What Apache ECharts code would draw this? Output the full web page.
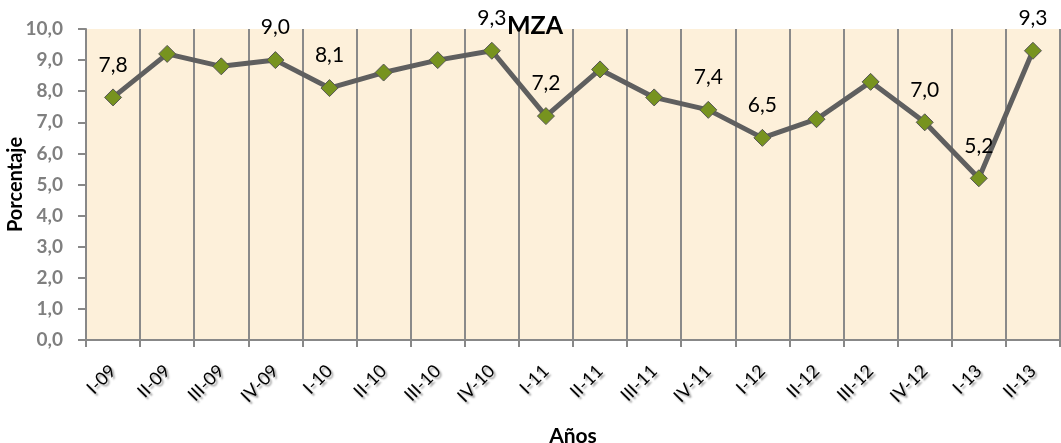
<!DOCTYPE html>
<html><head><meta charset="utf-8">
<script src="https://cdn.jsdelivr.net/npm/echarts@6/dist/echarts.min.js"></script>
<style>html,body{margin:0;padding:0;background:#fff}#c{width:1061px;height:443px}</style>
</head><body><div id="c"></div>
<script>
const categories = ['I-09','II-09','III-09','IV-09','I-10','II-10','III-10','IV-10','I-11','II-11','III-11','IV-11','I-12','II-12','III-12','IV-12','I-13','II-13'];
const values = [7.8, 9.2, 8.8, 9.0, 8.1, 8.6, 9.0, 9.3, 7.2, 8.7, 7.8, 7.4, 6.5, 7.1, 8.3, 7.0, 5.2, 9.3];
const showLabel = [true,false,false,true,true,false,false,true,true,false,false,true,true,false,false,true,true,true];
const yTicks = {min: 0, max: 10, interval: 1};

const fmt = v => v.toFixed(1).replace('.', ',');
const FONT = 'Lato';
const chart = echarts.init(document.getElementById('c'));
chart.setOption({
  animation: false,
  title: {text: 'MZA', left: 530, top: 8, textAlign: 'center',
    textStyle: {fontSize: 25, fontWeight: 'bold', color: '#000', fontFamily: FONT}},
  grid: {left: 86, right: 1, top: 29, bottom: 103, show: true, backgroundColor: '#FDF0DA', borderWidth: 0,
    outerBoundsMode: 'none', containLabel: false},
  xAxis: {
    type: 'category', data: categories, boundaryGap: true,
    name: 'Años', nameLocation: 'middle', nameGap: 86,
    nameTextStyle: {fontSize: 21, fontWeight: 'bold', color: '#000', fontFamily: FONT},
    axisLine: {lineStyle: {color: '#888', width: 2}},
    axisTick: {show: true, length: 7, lineStyle: {color: '#888', width: 2}},
    splitLine: {show: true, lineStyle: {color: '#8a8a8a', width: 2}},
    axisLabel: {rotate: 45, margin: 28, fontSize: 18, color: '#000', fontFamily: FONT,
      textShadowColor: 'rgba(0,0,0,0.4)', textShadowBlur: 2, textShadowOffsetX: 2, textShadowOffsetY: 2}
  },
  yAxis: {
    type: 'value', min: yTicks.min, max: yTicks.max, interval: yTicks.interval,
    name: 'Porcentaje', nameLocation: 'middle', nameGap: 60, nameRotate: 90, nameMoveOverlap: false,
    nameTextStyle: {fontSize: 20, fontWeight: 'bold', color: '#000', fontFamily: FONT},
    axisLine: {show: true, lineStyle: {color: '#888', width: 2}},
    axisTick: {show: true, inside: false, length: 8, lineStyle: {color: '#888', width: 2}},
    splitLine: {show: false},
    axisLabel: {formatter: function (v) { return fmt(v); }, fontSize: 19, fontWeight: 'bold', color: '#7F7F7F', margin: 23, fontFamily: FONT}
  },
  series: [{
    type: 'line',
    data: values.map((v, i) => ({value: v, label: {show: showLabel[i]}})),
    lineStyle: {color: '#5F5F5F', width: 5},
    symbol: 'diamond', symbolSize: 17,
    itemStyle: {color: '#77931F', borderColor: '#555', borderWidth: 1},
    label: {position: 'top', distance: 13, fontSize: 21, color: '#000', fontFamily: FONT,
      formatter: p => fmt(p.value)},
    z: 5
  }]
});
</script></body></html>
